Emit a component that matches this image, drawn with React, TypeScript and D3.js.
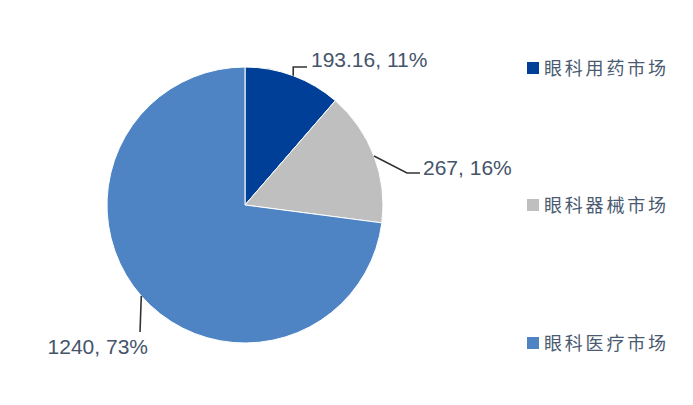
import React from "react";
import * as d3 from "d3";

const categories = ["眼科用药市场", "眼科器械市场", "眼科医疗市场"];
const values = [193.16, 267, 1240];
const valueLabels = ["193.16", "267", "1240"];
const colors = ["#003f97", "#bfbfbf", "#4f84c4"];

const W = 693;
const H = 405;
const cx = 245;
const cy = 205;
const R = 138;

export default function App() {
  const total = d3.sum(values);
  const pie = d3
    .pie<number>()
    .sort(null)
    .value((d) => d);
  const arcs = pie(values);
  const arcGen = d3.arc<d3.PieArcDatum<number>>().innerRadius(0).outerRadius(R);

  const edge = (a: d3.PieArcDatum<number>) => {
    const m = (a.startAngle + a.endAngle) / 2;
    return [Math.sin(m) * R, -Math.cos(m) * R];
  };

  const labelText = (i: number) =>
    `${valueLabels[i]}, ${Math.round((values[i] / total) * 100)}%`;

  // leader line layouts (relative to chart centre)
  const e0 = edge(arcs[0]);
  const e1 = edge(arcs[1]);
  const e2 = edge(arcs[2]);
  const lines = [
    { pts: [e0, [e0[0], -138], [62, -138]], tx: 66, ty: -138, anchor: "start" },
    { pts: [e1, [162, -32], [175, -32]], tx: 178, ty: -30, anchor: "start" },
    { pts: [e2, [-105, 127]], tx: -97, ty: 149, anchor: "end" },
  ];

  const legendY = [68, 205, 343];

  return (
    <svg
      width={W}
      height={H}
      style={{ position: "absolute", left: 0, top: 0, background: "#fff" }}
    >
      <g transform={`translate(${cx},${cy})`}>
        {arcs.map((a, i) => (
          <path key={i} d={arcGen(a) || ""} fill={colors[i]} stroke="#fff" strokeWidth={1} />
        ))}
        {lines.map((l, i) => (
          <g key={i}>
            <polyline
              points={l.pts.map((p) => p.join(",")).join(" ")}
              fill="none"
              stroke="#333"
              strokeWidth={1.6}
            />
            <text
              x={l.tx}
              y={l.ty}
              textAnchor={l.anchor as any}
              fontFamily="'Liberation Sans', Arial, sans-serif"
              fontSize={21}
              fill="#44546a"
            >
              {labelText(i)}
            </text>
          </g>
        ))}
      </g>
      {categories.map((c, i) => (
        <g key={c} transform={`translate(527,${legendY[i]})`}>
          <rect x={0} y={-6} width={12} height={12} fill={colors[i]} />
          <text
            x={17}
            y={6.5}
            fontFamily="'Noto Sans CJK SC', sans-serif"
            fontSize={18}
            letterSpacing={2.8}
            fill="#4a5a70"
          >
            {c}
          </text>
        </g>
      ))}
    </svg>
  );
}
